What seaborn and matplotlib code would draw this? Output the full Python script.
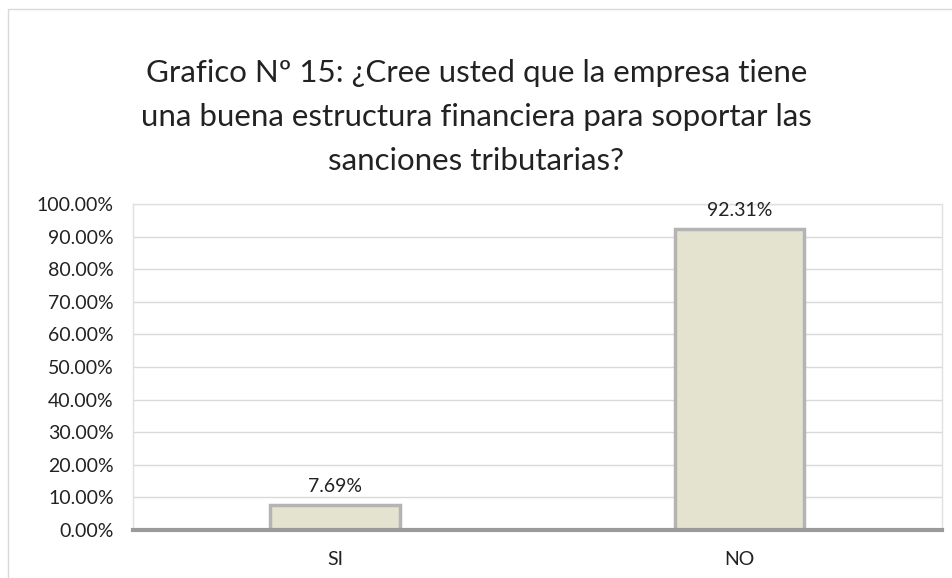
import matplotlib
matplotlib.use("Agg")
import matplotlib.pyplot as plt
import seaborn as sns
import pandas as pd
from matplotlib.ticker import PercentFormatter, MultipleLocator

# ── Data ──────────────────────────────────────────────────────────────────────
categories = ["SI", "NO"]
values     = [0.0769, 0.9231]
labels     = ["7.69%", "92.31%"]

df = pd.DataFrame({"respuesta": categories, "pct": values})

sns.set_theme(style="white")
plt.rcParams["font.family"] = ["Lato", "DejaVu Sans"]

fig = plt.figure(figsize=(9.53, 5.78), dpi=100)
ax = fig.add_axes([0.1396, 0.083, 0.8484, 0.564])

sns.barplot(data=df, x="respuesta", y="pct", ax=ax, width=0.32,
            color="#e4e3d0", edgecolor="#b4b4b4", linewidth=2.5, saturation=1)

for p, lab in zip(ax.patches, labels):
    ax.annotate(lab, (p.get_x() + p.get_width() / 2, p.get_height()),
                xytext=(0, 7), textcoords="offset points",
                ha="center", va="bottom", fontsize=14, color="#222222")

ax.set_ylim(0, 1.0)
ax.yaxis.set_major_locator(MultipleLocator(0.1))
ax.yaxis.set_major_formatter(PercentFormatter(1.0, decimals=2))
ax.grid(axis="y", color="#d9d9d9", linewidth=1)
ax.set_axisbelow(True)
ax.set_xlabel("")
ax.set_ylabel("")
ax.tick_params(axis="y", labelsize=14, colors="#222222", length=0, pad=14)
ax.tick_params(axis="x", labelsize=14, colors="#222222", length=0, pad=15)

for s in ["top", "right", "left"]:
    ax.spines[s].set_color("#e0e0e0")
    ax.spines[s].set_linewidth(1)
ax.spines["bottom"].set_color("#9a9a9a")
ax.spines["bottom"].set_linewidth(3)

fig.text(0.5, 0.797, "Grafico Nº 15: ¿Cree usted que la empresa tiene\n"
         "una buena estructura financiera para soportar las\n"
         "sanciones tributarias?",
         ha="center", va="center", fontsize=22.5, color="#222222", linespacing=1.7)

# outer frame
fig.patches.append(plt.Rectangle((0.008, -0.01), 1.0, 0.995, transform=fig.transFigure,
                                 fill=False, edgecolor="#d9d9d9", linewidth=1))

fig.savefig("out.png", dpi=100)
